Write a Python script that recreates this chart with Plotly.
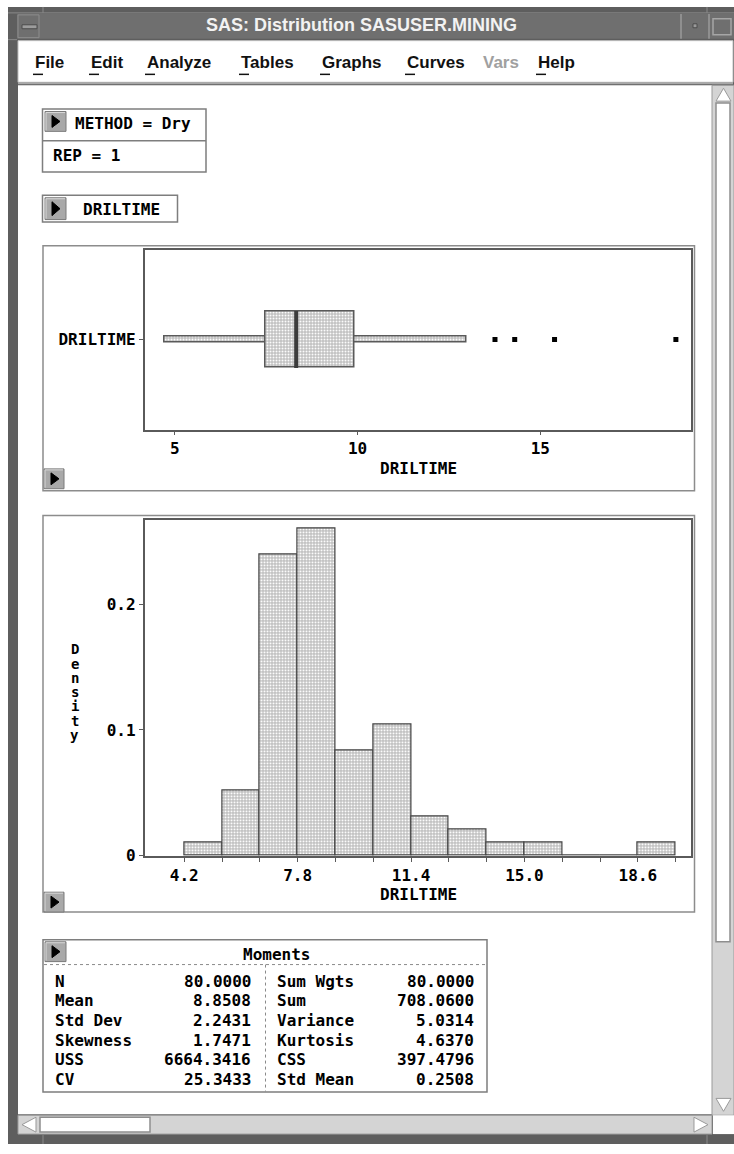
import plotly.graph_objects as go

# ---------------- data ----------------
bin_left = [4.2, 5.4, 6.6, 7.8, 9.0, 10.2, 11.4, 12.6, 13.8, 15.0, 16.2, 17.4, 18.6]
bin_counts = [1, 5, 23, 25, 8, 10, 3, 2, 1, 1, 0, 0, 1]
bin_width = 1.2
hist_label_ticks = [4.2, 7.8, 11.4, 15.0, 18.6]
density_ticks = [0, 0.1, 0.2]
density_tick_text = ["0", "0.1", "0.2"]

box_five = [4.71, 7.48, 8.32, 9.92, 12.97]   # low whisker, Q1, median, Q3, high whisker
box_outliers = [13.76, 14.30, 15.39, 18.71]
box_ticks = [5, 10, 15]

variable = "DRILTIME"
moments_left_labels = ["N", "Mean", "Std Dev", "Skewness", "USS", "CV"]
moments_left_values = [80.0, 8.8508, 2.2431, 1.7471, 6664.3416, 25.3433]
moments_right_labels = ["Sum Wgts", "Sum", "Variance", "Kurtosis", "CSS", "Std Mean"]
moments_right_values = [80.0, 708.06, 5.0314, 4.6370, 397.4796, 0.2508]

menu_items = ["File", "Edit", "Analyze", "Tables", "Graphs", "Curves", "Vars", "Help"]
menu_x = [33, 89, 145, 239, 320, 405, 481, 536]

# ---------------- helpers ----------------
W, H = 734, 1154
def px(x): return x / W
def py(y): return 1 - y / H

shapes = []
annotations = []
MONO = "DejaVu Sans Mono"

def rect(x0, y0, x1, y1, fill="rgba(0,0,0,0)", line=None, lw=0, dash=None, layer="below"):
    ln = dict(color=line if line else "rgba(0,0,0,0)", width=lw)
    if dash:
        ln["dash"] = dash
    shapes.append(dict(type="rect", xref="paper", yref="paper",
                       x0=px(x0), x1=px(x1), y0=py(y1), y1=py(y0),
                       fillcolor=fill, line=ln, layer=layer))

def hline(x0, x1, y, color, lw=1, dash=None, layer="below"):
    ln = dict(color=color, width=lw)
    if dash:
        ln["dash"] = dash
    shapes.append(dict(type="line", xref="paper", yref="paper",
                       x0=px(x0), x1=px(x1), y0=py(y), y1=py(y), line=ln, layer=layer))

def vline(x, y0, y1, color, lw=1, dash=None, layer="below"):
    ln = dict(color=color, width=lw)
    if dash:
        ln["dash"] = dash
    shapes.append(dict(type="line", xref="paper", yref="paper",
                       x0=px(x), x1=px(x), y0=py(y0), y1=py(y1), line=ln, layer=layer))

def poly(pts, fill, line, lw=1, layer="below"):
    path = "M " + " L ".join(f"{px(a):.6f},{py(b):.6f}" for a, b in pts) + " Z"
    shapes.append(dict(type="path", xref="paper", yref="paper", path=path,
                       fillcolor=fill, line=dict(color=line, width=lw), layer=layer))

def text(x, y, s, size=16, color="black", family=MONO, weight="bold", xanchor="left"):
    annotations.append(dict(xref="paper", yref="paper", x=px(x), y=py(y), text=s,
                            showarrow=False, xanchor=xanchor, yanchor="middle",
                            font=dict(family=family, size=size, color=color, weight=weight)))

def arrow_button(x0, y0, w=21, h=20):
    rect(x0, y0, x0 + w, y0 + h, fill="#a9a9a9", line="#7a7a7a", lw=1)
    hline(x0 + 1, x0 + w - 1, y0 + 1, "#d8d8d8", 1)
    vline(x0 + 1, y0 + 1, y0 + h - 1, "#d8d8d8", 1)
    poly([(x0 + 7, y0 + 4), (x0 + 15, y0 + h / 2), (x0 + 7, y0 + h - 4)], "black", "black", 1)

# ---------------- window chrome ----------------
rect(8, 7, 734, 1154, fill="#5e5e5e")
rect(17, 14, 734, 39, fill="#6f6f6f")
hline(8, 734, 13, "#8a8a8a", 1)
vline(43, 7, 13, "#8a8a8a", 1)
vline(707, 7, 13, "#8a8a8a", 1)
hline(8, 17, 40, "#8a8a8a", 1)
# title bar buttons
rect(18, 15, 39, 38, fill="#6f6f6f", line="#8e8e8e", lw=1)
rect(22, 25, 37, 29, fill="#9c9c9c", line="#4c4c4c", lw=1)
vline(681, 14, 39, "#9a9a9a", 1.5)
rect(693, 24, 697, 28, fill="#9a9a9a", line="#4c4c4c", lw=1)
vline(709, 14, 39, "#9a9a9a", 1.5)
rect(713, 19, 731, 35, fill="#6f6f6f", line="#a6a6a6", lw=1.5)
text(361, 25, "SAS: Distribution SASUSER.MINING", size=18, color="#f2f2f2",
     family="Liberation Sans", weight="bold", xanchor="center")

# menu bar
rect(18, 41, 733, 83, fill="white", line="#bdbdbd", lw=1)
hline(18, 733, 84, "#a8a8a8", 2)
for name, mx in zip(menu_items, menu_x):
    col = "#a0a0a0" if name == "Vars" else "#111111"
    text(mx, 63, name, size=17, color=col, family="Liberation Sans", weight="bold")
    if name != "Vars":
        hline(mx, mx + 10, 75, "#111111", 1.5)

# content area
rect(18, 86, 712, 1124, fill="white")

# vertical scrollbar
rect(712, 86, 734, 1125, fill="#d4d4d4", line="#9a9a9a", lw=1)
poly([(716, 102), (723.5, 89), (731, 102)], "white", "#9a9a9a", 1)
rect(716, 104, 730, 950, fill="white", line="#8e8e8e", lw=1.5)
poly([(716, 1108), (723.5, 1121), (731, 1108)], "white", "#9a9a9a", 1)
# horizontal scrollbar
rect(18, 1125, 712, 1144, fill="#d4d4d4", line="#9a9a9a", lw=1)
poly([(36, 1127), (22, 1134.5), (36, 1142)], "white", "#9a9a9a", 1)
rect(40, 1127, 150, 1142, fill="white", line="#8e8e8e", lw=1.5)
poly([(694, 1127), (708, 1134.5), (694, 1142)], "white", "#9a9a9a", 1)
rect(713, 1125, 734, 1144, fill="white")
vline(43, 1145, 1154, "#8a8a8a", 1)
vline(707, 1145, 1154, "#8a8a8a", 1)

# ---------------- header widgets ----------------
rect(42.5, 110, 206, 173.5, fill="white", line="#7e7e7e", lw=1.5)
hline(42.5, 206, 142, "#7e7e7e", 1.5)
arrow_button(45, 112.5)
text(73, 125, "METHOD = Dry")
text(51, 157, "REP = 1")

rect(42.5, 197, 177.5, 224, fill="white", line="#7e7e7e", lw=1.5)
arrow_button(45, 199.5, 21, 22)
text(80.5, 211, variable)

# ---------------- panels ----------------
rect(43, 248, 694.5, 495, fill="white", line="#8c8c8c", lw=1.5)
arrow_button(44, 473, 20, 20)
rect(43, 520, 694.5, 920, fill="white", line="#8c8c8c", lw=1.5)
arrow_button(44, 900, 20, 20)

# x-axis titles / y-axis titles
text(418, 473, variable, xanchor="center")
text(418, 902, variable, xanchor="center")
for i, ch in enumerate("Density"):
    text(74.5, 655 + 14.4 * i, ch, size=14, xanchor="center")

# ---------------- moments table ----------------
rect(43, 948, 487, 1101.5, fill="white", line="#7e7e7e", lw=1.5)
arrow_button(45, 950, 21, 20)
hline(44, 486, 973, "#8a8a8a", 1, dash="dot")
vline(265.5, 973, 1101, "#8a8a8a", 1, dash="dot")
text(276.5, 962.5, "Moments", xanchor="center")
row_y = [990, 1009.5, 1029.3, 1049.3, 1069, 1089]
for yy, lab, val in zip(row_y, moments_left_labels, moments_left_values):
    text(53, yy, lab)
    text(253, yy, f"{val:.4f}", xanchor="right")
for yy, lab, val in zip(row_y, moments_right_labels, moments_right_values):
    text(275, yy, lab)
    text(475.5, yy, f"{val:.4f}", xanchor="right")

# ---------------- traces ----------------
pattern = dict(shape="+", size=3, solidity=0.6, fgcolor="#6a6a6a", fillmode="overlay")
lw_, q1, med, q3, hw = box_five
BOX_HALF = 0.316
WHISK_HALF = 0.032

fig = go.Figure()
fig.add_trace(go.Bar(
    orientation="h", y=[0, 0, 0], base=[lw_, q1, q3], x=[q1 - lw_, q3 - q1, hw - q3],
    width=[2 * WHISK_HALF, 2 * BOX_HALF, 2 * WHISK_HALF],
    marker=dict(color="white", pattern=pattern, line=dict(color="#5a5a5a", width=1.5)),
    xaxis="x", yaxis="y", showlegend=False, hoverinfo="skip"))
fig.add_trace(go.Scatter(
    x=[med, med], y=[-BOX_HALF, BOX_HALF], mode="lines",
    line=dict(color="#3c3c3c", width=4), xaxis="x", yaxis="y", showlegend=False))
fig.add_trace(go.Scatter(
    x=box_outliers, y=[0] * len(box_outliers), mode="markers",
    marker=dict(symbol="square", size=5, color="black"),
    xaxis="x", yaxis="y", showlegend=False))

N = sum(bin_counts)
density = [c / (N * bin_width) for c in bin_counts]
centers = [b + bin_width / 2 for b in bin_left]
fig.add_trace(go.Bar(
    x=centers, y=density, width=[bin_width] * len(centers),
    marker=dict(color="white", pattern=pattern, line=dict(color="#444444", width=1.2)),
    xaxis="x2", yaxis="y2", showlegend=False, hoverinfo="skip"))

edge_ticks = [round(b, 1) for b in bin_left] + [round(bin_left[-1] + bin_width, 1)]
edge_text = [f"{v:.1f}" if any(abs(v - l) < 1e-6 for l in hist_label_ticks) else "" for v in edge_ticks]

tickfont = dict(family=MONO, size=16, color="black", weight="bold")
axis_common = dict(showline=True, mirror=True, linecolor="#5a5a5a", linewidth=1.5,
                   showgrid=False, zeroline=False, ticks="outside", ticklen=4,
                   tickcolor="#5a5a5a", tickwidth=1.2, tickfont=tickfont, fixedrange=True)

fig.update_layout(
    width=W, height=H, margin=dict(l=0, r=0, t=0, b=0),
    paper_bgcolor="white", plot_bgcolor="rgba(0,0,0,0)",
    barmode="overlay", bargap=0,
    xaxis=dict(domain=[px(144.5), px(690.5)], range=[4.17, 19.11], anchor="y",
               tickvals=box_ticks, ticktext=[str(t) for t in box_ticks], **axis_common),
    yaxis=dict(domain=[py(433.3), py(251.7)], range=[-1, 1], anchor="x",
               tickvals=[0], ticktext=[variable], **axis_common),
    xaxis2=dict(domain=[px(144.5), px(690.5)], range=[2.94, 20.27], anchor="y2",
                tickvals=edge_ticks, ticktext=edge_text, **axis_common),
    yaxis2=dict(domain=[py(863.3), py(525)], range=[0, 0.2664], anchor="x2",
                tickvals=density_ticks, ticktext=density_tick_text, **axis_common),
    shapes=shapes, annotations=annotations,
)

fig.write_html("out.html", config={"displayModeBar": False},
               post_script="document.body.style.margin='0px';document.body.style.overflow='hidden';")
